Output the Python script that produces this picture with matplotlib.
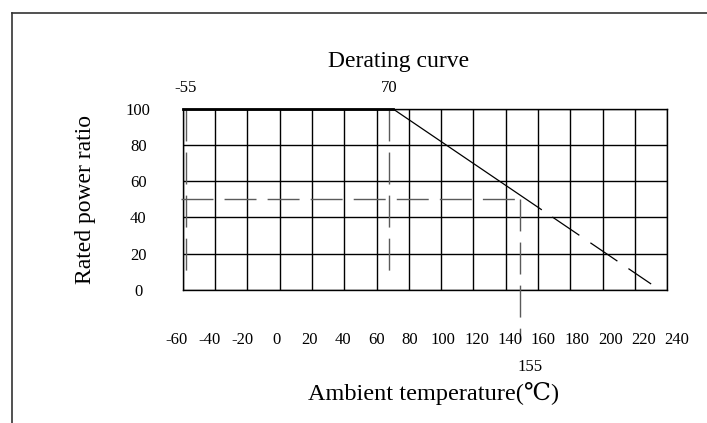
import matplotlib.pyplot as plt
from matplotlib.lines import Line2D

# Data
temp_ticks = list(range(-60, 241, 20))
power_ticks = [0, 20, 40, 60, 80, 100]

# rated curve: flat at 100 % up to 70 C, then straight down
curve_temp = [-60, 70, 162]
curve_power = [100, 100, 44.4]
curve_ext_temp = [162, 230]
curve_ext_power = [44.4, 3.3]

# guide lines as drawn in the picture
guide_temps = [-58, 68, 149]
guide_tops = [100, 100, 50]
guide_bottoms = [8, 8, -28]
guide_labels = ['-55', '70', '155']
half_power_x = [-61, 149]
half_power_y = [50, 50]

W, H = 707, 423
plt.rcParams['font.family'] = ['Liberation Serif', 'DejaVu Serif', 'Noto Sans CJK SC']
plt.rcParams['axes.unicode_minus'] = False
plt.rcParams['lines.scale_dashes'] = False

fig = plt.figure(figsize=(W / 100, H / 100), dpi=100)
fig.patch.set_facecolor('white')

# outer frame (top and left edge only)
fig.add_artist(Line2D([12 / W, 1], [1 - 13 / H, 1 - 13 / H], color='#333333', lw=1.2))
fig.add_artist(Line2D([12 / W, 12 / W], [0, 1 - 13 / H], color='#333333', lw=1.2))

left, right, top, bottom = 182.7, 667.3, 108.7, 290
ax = fig.add_axes([left / W, 1 - bottom / H, (right - left) / W, (bottom - top) / H])
ax.set_xlim(-60, 240)
ax.set_ylim(0, 100)
ax.set_xticks(temp_ticks)
ax.set_yticks(power_ticks)
ax.grid(True, color='black', lw=1.0)
for s in ax.spines.values():
    s.set_color('black')
    s.set_linewidth(1.0)
ax.tick_params(length=0, labelbottom=False)
ax.tick_params(axis='y', pad=32, labelsize=12)
for lab in ax.get_yticklabels():
    lab.set_horizontalalignment('center')

# derating curve
ax.plot(curve_temp[:2], curve_power[:2], color='black', lw=2.0, clip_on=False, zorder=4)
ax.plot(curve_temp[1:], curve_power[1:], color='black', lw=0.9, zorder=4)
ax.plot(curve_ext_temp, curve_ext_power, color='black', lw=0.9,
        ls=(23.5, (23.5, 9.6)), zorder=4)

# guide lines
dash = (0, (23, 8))
ax.plot(half_power_x, half_power_y, color='#5a5a5a', lw=1.0, ls=dash, clip_on=False, zorder=3)
for t, y0, y1 in zip(guide_temps, guide_tops, guide_bottoms):
    ax.plot([t, t], [y0, y1], color='#5a5a5a', lw=1.0, ls=dash, clip_on=False, zorder=3)
for t, lab in zip(guide_temps[:2], guide_labels[:2]):
    ax.text(t, 111.5, lab, ha='center', va='center', fontsize=12)
ax.text(155, -42.5, guide_labels[2], ha='center', va='center', fontsize=12, clip_on=False)

# bottom temperature labels sit on a slightly wider scale than the grid
lx0, lx1 = 176, 677
ax_lab = fig.add_axes([lx0 / W, 1 - bottom / H, (lx1 - lx0) / W, (bottom - top) / H],
                      frameon=False)
ax_lab.patch.set_visible(False)
ax_lab.set_xlim(-60, 240)
ax_lab.set_xticks(temp_ticks)
ax_lab.set_yticks([])
ax_lab.tick_params(length=0, pad=30, labelsize=12)

fig.text(399 / W, 1 - 62 / H, 'Derating curve', ha='center', va='center', fontsize=17)
fig.text(434 / W, 1 - 393 / H, 'Ambient temperature(℃)', ha='center', va='center', fontsize=17.5)
fig.text(86 / W, 1 - 200 / H, 'Rated power ratio', ha='center', va='center',
         rotation=90, fontsize=17)

fig.savefig('out.png', dpi=100)
